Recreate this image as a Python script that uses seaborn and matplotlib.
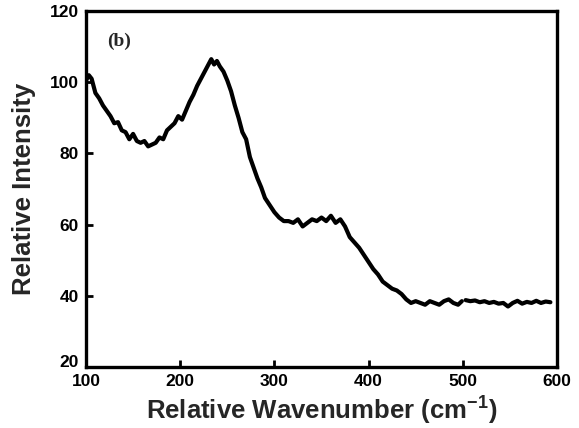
import numpy as np
import pandas as pd
import matplotlib
matplotlib.use("Agg")
import matplotlib.pyplot as plt
import matplotlib.transforms as mtransforms
import seaborn as sns

# Raman spectrum, panel (b)
wavenumber = [100, 103, 106, 110, 114, 118, 122, 126, 130, 134, 138, 142, 146, 150,
              154, 158, 162, 166, 170, 174, 178, 182, 186, 190, 194, 198, 202, 206,
              210, 214, 218, 222, 226, 230, 233, 236, 239, 242, 246, 250, 254, 258,
              262, 266, 270, 274, 278, 282, 286, 290, 295, 300, 305, 310, 315, 320,
              325, 330, 335, 340, 345, 350, 355, 360, 365, 370, 375, 380, 385, 390,
              395, 400, 405, 410, 415, 420, 425, 430, 435, 440, 445, 450, 455, 460,
              465, 470, 475, 480, 485, 490, 495, 499,
              503, 508, 513, 518, 523, 528, 533, 538, 543, 548, 553, 558, 563, 568,
              573, 578, 583, 588, 593]
intensity = [100.5, 102.0, 101.0, 97.0, 95.5, 93.5, 92.0, 90.5, 88.5, 88.8, 86.5, 86.0,
             84.0, 85.5, 83.5, 83.0, 83.5, 82.0, 82.5, 83.0, 84.5, 84.0, 86.5, 87.5,
             88.5, 90.5, 89.5, 92.0, 94.5, 96.5, 99.0, 101.0, 103.0, 105.0, 106.5,
             105.0, 106.0, 104.5, 103.0, 100.5, 97.5, 93.5, 90.0, 86.0, 84.0, 79.0,
             76.0, 73.0, 70.5, 67.5, 65.5, 63.5, 62.0, 61.0, 61.0, 60.5, 61.5, 59.5,
             60.5, 61.5, 61.0, 62.0, 61.0, 62.5, 60.5, 61.5, 59.5, 56.5, 55.0, 53.5,
             51.5, 49.5, 47.5, 46.0, 44.0, 43.0, 42.0, 41.5, 40.5, 39.0, 38.0, 38.5,
             38.0, 37.5, 38.5, 38.0, 37.5, 38.5, 39.0, 38.0, 37.5, 38.5,
             38.8, 38.5, 38.7, 38.2, 38.5, 38.0, 38.3, 37.8, 38.0, 37.0, 38.0, 38.6,
             37.8, 38.3, 38.0, 38.6, 38.0, 38.4, 38.2]
# the trace is recorded in two scans joined near 500 cm-1
segment = [0] * 92 + [1] * 19

x_ticks = [100, 200, 300, 400, 500, 600]
y_ticks = [20, 40, 60, 80, 100, 120]

df = pd.DataFrame({"wavenumber": wavenumber, "intensity": intensity, "segment": segment})

sns.set_style("ticks")
plt.rcParams["font.family"] = ["Liberation Sans", "DejaVu Sans"]
plt.rcParams["mathtext.fontset"] = "custom"
plt.rcParams["mathtext.bf"] = "Liberation Sans:bold"
plt.rcParams["mathtext.rm"] = "Liberation Sans:bold"

fig = plt.figure(figsize=(5.79, 4.28), dpi=100)
ax = fig.add_axes([0.1485, 0.1425, 0.8135, 0.8315])

sns.lineplot(data=df, x="wavenumber", y="intensity", units="segment",
             estimator=None, sort=False, color="black", linewidth=3.0, ax=ax)

ax.set_xlim(100, 600)
ax.set_ylim(20, 120)
ax.set_xticks(x_ticks)
ax.set_yticks(y_ticks)
ax.set_xticklabels([str(t) for t in x_ticks], fontsize=12.5, fontweight="bold")
ax.set_yticklabels([str(t) for t in y_ticks], fontsize=12.5, fontweight="bold")
ax.tick_params(direction="in", length=5, width=2, colors="black")
ax.tick_params(axis="x", pad=5)
ax.tick_params(axis="y", pad=5)

# lift the lowest y label so it sits clear of the first x label
lift = mtransforms.ScaledTranslation(0, 4 / 72, fig.dpi_scale_trans)
low = ax.get_yticklabels()[0]
low.set_transform(low.get_transform() + lift)

for side in ["left", "right", "top", "bottom"]:
    ax.spines[side].set_visible(True)
    ax.spines[side].set_linewidth(2.4)
    ax.spines[side].set_color("black")

ax.set_xlabel("Relative Wavenumber (cm$^{\\mathrm{-1}}$)", fontsize=18.5,
              fontweight="bold", labelpad=3)
ax.set_ylabel("Relative Intensity", fontsize=18.5, fontweight="bold", labelpad=10)

ax.text(135, 111.5, "(b)", fontsize=14, fontweight="bold",
        family=["Liberation Serif", "DejaVu Serif"], ha="center", va="center")

fig.savefig("out.png", dpi=100, facecolor="white")
